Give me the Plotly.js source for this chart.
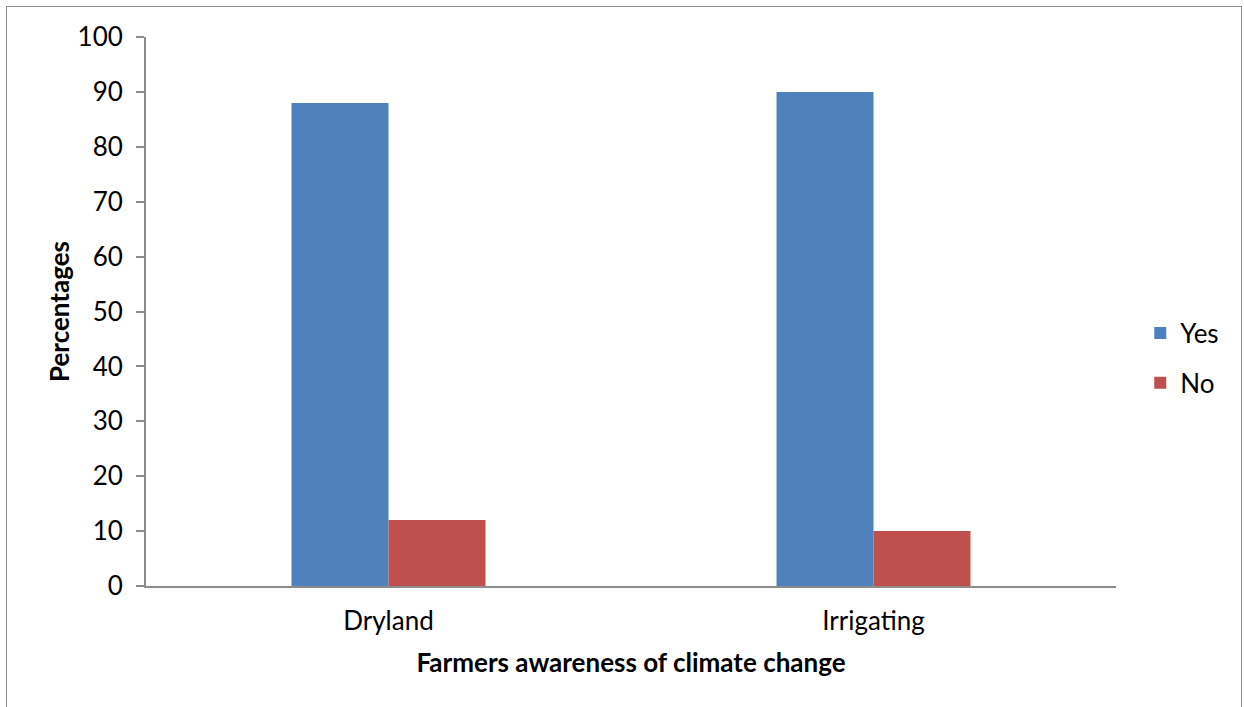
<!DOCTYPE html>
<html>
<head>
<meta charset="utf-8">
<script src="https://cdn.plot.ly/plotly-3.0.1.min.js"></script>
<style>
  html, body { margin: 0; padding: 0; background: #ffffff; }
  #frame { position: absolute; left: 6px; top: 6px; width: 1236px; height: 720px; border: 1.5px solid #8c8c8c; box-sizing: border-box; }
  #chart { position: absolute; left: 0; top: 0; width: 1244px; height: 707px; }
</style>
</head>
<body>
<div id="chart"></div>
<div id="frame"></div>
<script>
const categories = ["Dryland", "Irrigating"];
const yesValues = [88, 90];
const noValues = [12, 10];
const seriesNames = ["Yes", "No"];
const yTickValues = [0, 10, 20, 30, 40, 50, 60, 70, 80, 90, 100];

const fontFamily = "Lato, 'Open Sans', 'Noto Sans', sans-serif";
const fs = 26;

const data = [
  { type: "bar", name: seriesNames[0], x: categories, y: yesValues, legendgroup: "a",
    marker: { color: "#4f81bd", line: { width: 0 } } },
  { type: "bar", name: seriesNames[1], x: categories, y: noValues, legendgroup: "b",
    marker: { color: "#c0504d", line: { width: 0 } } }
];

const layout = {
  width: 1244, height: 707,
  margin: { l: 146, r: 128, t: 37, b: 121 },
  paper_bgcolor: "rgba(0,0,0,0)",
  plot_bgcolor: "#ffffff",
  barmode: "group",
  bargap: 0.6,
  bargroupgap: 0,
  font: { family: fontFamily, size: fs, color: "#000000" },
  showlegend: true,
  legend: {
    x: 1.025, xanchor: "left", y: 0.415, yanchor: "middle",
    font: { family: fontFamily, size: fs, color: "#000000" },
    itemwidth: 30, tracegroupgap: 13, traceorder: "grouped"
  },
  xaxis: {
    type: "category",
    showline: true, linecolor: "#8c8c8c", linewidth: 2,
    ticks: "", showgrid: false, zeroline: false,
    ticklabelstandoff: 11,
    tickfont: { family: fontFamily, size: fs, color: "#000000" },
    title: { text: "<b>Farmers awareness of climate change</b>", standoff: 19,
             font: { family: fontFamily, size: fs, color: "#000000" } }
  },
  yaxis: {
    range: [0, 100], tickvals: yTickValues, ticktext: yTickValues.map(String),
    showline: true, linecolor: "#8c8c8c", linewidth: 2,
    ticks: "outside", ticklen: 8, tickcolor: "#8c8c8c", tickwidth: 2,
    showgrid: false, zeroline: false,
    ticklabelstandoff: 8,
    tickfont: { family: fontFamily, size: fs, color: "#000000" },
    title: { text: "<b>Percentages</b>", standoff: 0,
             font: { family: fontFamily, size: fs, color: "#000000" } }
  }
};

Plotly.newPlot("chart", data, layout, { displayModeBar: false, staticPlot: true });
</script>
</body>
</html>
